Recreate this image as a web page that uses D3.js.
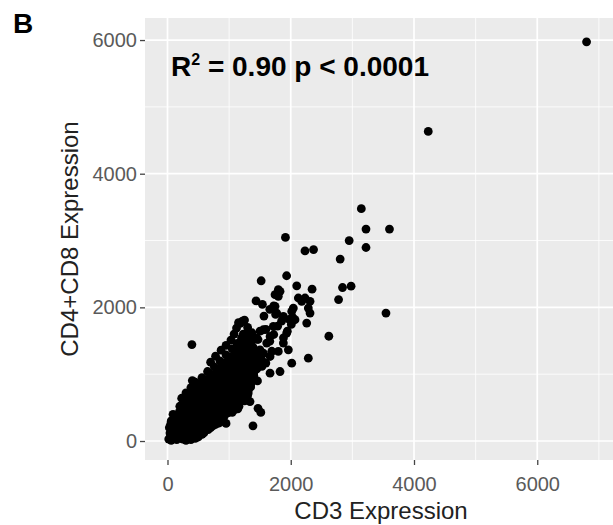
<!DOCTYPE html>
<html>
<head>
<meta charset="utf-8">
<script src="https://cdn.jsdelivr.net/npm/d3@7.9.0/dist/d3.min.js"></script>
<style>
  body { margin: 0; background: #fff; }
  svg { display: block; font-family: "Liberation Sans", Arial, sans-serif; }
</style>
</head>
<body>
<div id="chart"></div>
<script>
// tick values
const xTicks = [0, 2000, 4000, 6000];
const xMinor = [1000, 3000, 5000, 7000];
const yTicks = [0, 2000, 4000, 6000];
const yMinor = [1000, 3000, 5000];

// [CD3, CD4+CD8]
const denseCore = [
  [20,30],[60,10],[110,40],[150,20],[200,60],[250,30],[300,10],[380,20],[450,40],[40,120],[90,90],[140,110],[190,140],
  [30,200],[80,180],[130,220],[180,200],[230,170],[280,120],[320,60],[370,90],[60,300],[110,280],[160,320],[210,290],
  [260,260],[310,210],[360,180],[410,140],[460,100],[500,60],[560,100],[90,400],[140,380],[190,430],[240,390],[290,350],
  [340,320],[390,270],[440,240],[490,200],[540,160],[590,120],[660,170],[200,520],[250,490],[300,460],[350,420],[400,380],
  [450,350],[500,310],[550,270],[600,230],[650,200],[740,230],[230,640],[280,600],[330,570],[380,540],[430,500],[480,470],
  [530,430],[580,400],[630,360],[680,320],[730,280],[780,250],[820,300],[300,720],[350,690],[400,660],[450,620],[500,590],
  [550,560],[600,520],[650,490],[700,450],[750,410],[800,370],[850,330],[900,360],[380,800],[430,770],[480,740],[530,700],
  [580,680],[630,640],[680,600],[730,560],[780,530],[830,490],[880,450],[930,400],[980,420],[450,880],[500,850],[550,820],
  [600,790],[650,760],[700,720],[750,690],[800,650],[850,610],[900,580],[950,540],[1000,480],[1050,430],[1060,500],[560,950],
  [610,920],[660,880],[710,850],[760,820],[810,780],[860,750],[910,710],[960,680],[1010,640],[1060,600],[1110,560],[1120,600],
  [1160,520],[1180,700],[650,1040],[700,1000],[750,970],[800,940],[850,900],[900,870],[950,830],[1000,800],[1050,760],
  [1100,720],[1150,690],[1200,650],[1250,600],[760,1110],[810,1080],[860,1050],[910,1010],[960,980],[1000,1000],[1010,940],
  [1060,910],[1110,870],[1160,840],[1210,800],[1260,760],[1310,720],[850,1200],[900,1170],[950,1140],[1000,1100],[1050,1070],
  [1100,1030],[1150,1000],[1200,960],[1250,930],[1300,890],[1350,850],[950,1290],[1000,1260],[1050,1230],[1100,1190],
  [1150,1160],[1200,1120],[1250,1090],[1300,1050],[1350,1010],[1400,980],[1050,1380],[1100,1350],[1150,1320],[1200,1280],
  [1250,1250],[1300,1210],[1350,1180],[1130,1460],[1180,1430],[1230,1400],[1280,1370],[1330,1330],[1200,1540],[1250,1510],
  [1300,1480],[1350,1440],[1280,1600],[1330,1570],[700,1180],[780,1270],[870,1360],[950,1430],[1030,1510],[1080,1600],
  [1120,1690],[1180,1760],[1250,1810],[1230,1600],[1300,1700],[1370,1620],[1420,1520],[1390,1400],[1440,1300],[1480,1200],
  [1450,1080],[1400,960],[1460,900],[1340,850],[1285,615],[1339,590],[1393,1015],[1555,1315],[1230,865]
];

// points between the rows above, where the cloud is solid black
const denseFill = [
  [45,60],[125,70],[175,60],[225,100],[275,70],[345,40],[420,60],[50,250],[105,230],[155,260],[205,240],[255,210],
  [305,160],[350,130],[400,100],[470,70],[115,340],[165,350],[215,350],[265,310],[315,270],[365,240],[415,200],[465,170],
  [515,130],[570,140],[215,460],[265,440],[315,410],[365,370],[415,330],[465,290],[515,240],[565,200],[620,170],[700,200],
  [265,560],[315,520],[365,480],[415,440],[465,410],[515,370],[565,330],[615,300],[665,260],[710,240],[760,270],[340,640],
  [390,610],[440,580],[490,540],[540,500],[590,460],[640,430],[690,390],[740,350],[790,310],[840,270],[420,720],[470,690],
  [520,660],[570,620],[620,580],[670,550],[720,510],[770,470],[820,430],[870,400],[920,370],[960,450],[500,800],[550,770],
  [600,740],[650,700],[700,670],[750,630],[800,600],[850,560],[900,520],[950,480],[1000,440],[600,880],[650,850],[700,810],
  [750,780],[800,740],[850,710],[900,670],[950,630],[1000,590],[1050,550],[1100,510],[1140,480],[700,970],[750,940],
  [800,900],[850,870],[900,830],[950,800],[1000,760],[1050,720],[1100,680],[1150,640],[1200,600],[810,1050],[860,1010],
  [910,980],[960,940],[1010,910],[1060,870],[1110,830],[1160,800],[1210,760],[1260,720],[1300,680],[900,1130],[950,1100],
  [1000,1060],[1050,1030],[1100,990],[1150,960],[1200,920],[1250,890],[1300,850],[1350,810],[1000,1220],[1050,1190],
  [1100,1150],[1150,1120],[1200,1080],[1250,1050],[1300,1010],[1350,970],[1100,1300],[1150,1270],[1200,1240],[1250,1200],
  [1300,1170],[1350,1130],[1180,1390],[1230,1360],[1280,1330],[1330,1290],[1380,1250],[1260,1450],[1310,1420],[1360,1390],
  [1310,1530],[1360,1500]
];

const midCluster = [
  [1520,2398],[1437,2096],[1540,2045],[1745,2015],[1798,2265],[1745,2190],[1826,2240],[1798,2165],[1933,2473],[2097,2323],
  [2346,2272],[2123,2140],[2178,2090],[2313,2090],[2232,2140],[2042,1990],[2285,1990],[2313,1915],[2259,1765],[2016,1940],
  [1772,1915],[1880,1865],[2069,1815],[1565,1870],[1660,1970],[1724,2021],[1755,1895],[1851,1794],[1787,1719],[1977,1820],
  [2028,1855],[2009,1745],[1945,1644],[1882,1544],[1724,1594],[1596,1669],[1501,1644],[1660,1493],[1692,1343],[1469,1519],
  [1152,1770],[1216,1794],[1247,1544],[1342,1443],[1437,1292],[1469,1191],[1532,1116],[1596,1167],[1406,1041],[1342,890],
  [1310,765],[1279,615],[1555,1665],[1664,1565],[1610,1465],[1501,1365],[1529,1215],[1664,1265],[1798,1340],[1880,1465],
  [1934,1615],[1717,1715],[1447,1540],[1339,1315],[1393,1115],[1961,1365],[2016,1165],[1664,1015],[1826,1040],[2285,1240]
];

const highOutliers = [
  [1914,3046],[2231,2845],[2370,2865],[6800,5973],[4231,4633],[3145,3477],[3221,3171],[3602,3171],[2948,3000],
  [3221,2896],[2802,2723],[2840,2297],[2979,2317],[2776,2116],[3545,1915],[2618,1568]
];

const lowOutliers = [[396,1443],[403,905],[1387,228],[1514,428],[1469,489],[950,263],[1083,465]];

const points = [...denseCore, ...denseFill, ...midCluster, ...highOutliers, ...lowOutliers];

const width = 613, height = 525;
const panel = { left: 145, right: 617, top: 18, bottom: 460 };

const svg = d3.select('#chart').append('svg')
  .attr('width', width).attr('height', height);

const x = d3.scaleLinear().domain([-365, 7294]).range([panel.left, panel.right]);
const y = d3.scaleLinear().domain([-284, 6330]).range([panel.bottom, panel.top]);

svg.append('rect')
  .attr('x', panel.left).attr('y', panel.top)
  .attr('width', panel.right - panel.left).attr('height', panel.bottom - panel.top)
  .attr('fill', '#ebebeb');

const grid = svg.append('g');
grid.selectAll('.vmin').data(xMinor).join('line')
  .attr('x1', d => x(d)).attr('x2', d => x(d)).attr('y1', panel.top).attr('y2', panel.bottom)
  .attr('stroke', '#fff').attr('stroke-width', 0.8);
grid.selectAll('.hmin').data(yMinor).join('line')
  .attr('y1', d => y(d)).attr('y2', d => y(d)).attr('x1', panel.left).attr('x2', panel.right)
  .attr('stroke', '#fff').attr('stroke-width', 0.8);
grid.selectAll('.vmaj').data(xTicks).join('line')
  .attr('x1', d => x(d)).attr('x2', d => x(d)).attr('y1', panel.top).attr('y2', panel.bottom)
  .attr('stroke', '#fff').attr('stroke-width', 1.7);
grid.selectAll('.hmaj').data(yTicks).join('line')
  .attr('y1', d => y(d)).attr('y2', d => y(d)).attr('x1', panel.left).attr('x2', panel.right)
  .attr('stroke', '#fff').attr('stroke-width', 1.7);

svg.append('g').selectAll('circle')
  .data(points).join('circle')
  .attr('cx', d => x(d[0]))
  .attr('cy', d => y(d[1]))
  .attr('r', 4.4)
  .attr('fill', '#000');

const fmt = d3.format('d');
const xAxis = svg.append('g').attr('transform', `translate(0,${panel.bottom})`)
  .call(d3.axisBottom(x).tickValues(xTicks).tickFormat(fmt).tickSize(5).tickPadding(12));
const yAxis = svg.append('g').attr('transform', `translate(${panel.left},0)`)
  .call(d3.axisLeft(y).tickValues(yTicks).tickFormat(fmt).tickSize(5).tickPadding(3));

[xAxis, yAxis].forEach(g => {
  g.select('.domain').remove();
  g.selectAll('line').attr('stroke', '#444').attr('stroke-width', 1.3);
  g.selectAll('text').attr('fill', '#5a5a5a').style('font-size', '20px')
    .style('font-family', '"Liberation Sans", Arial, sans-serif');
});

svg.append('text')
  .attr('x', 381).attr('y', 519)
  .attr('text-anchor', 'middle')
  .style('font-size', '24px').attr('fill', '#222')
  .text('CD3 Expression');

svg.append('text')
  .attr('transform', `translate(78,${(panel.top + panel.bottom) / 2}) rotate(-90)`)
  .attr('text-anchor', 'middle')
  .style('font-size', '24px').attr('fill', '#222')
  .text('CD4+CD8 Expression');

svg.append('text')
  .attr('x', 13).attr('y', 33)
  .style('font-size', '28px').style('font-weight', 'bold')
  .text('B');

const ann = svg.append('text')
  .attr('x', 171).attr('y', 76)
  .style('font-size', '28px').style('font-weight', 'bold');
ann.append('tspan').text('R');
ann.append('tspan').attr('dy', -11).style('font-size', '16px').text('2');
ann.append('tspan').attr('dy', 11).text(' = 0.90 p < 0.0001');
</script>
</body>
</html>
